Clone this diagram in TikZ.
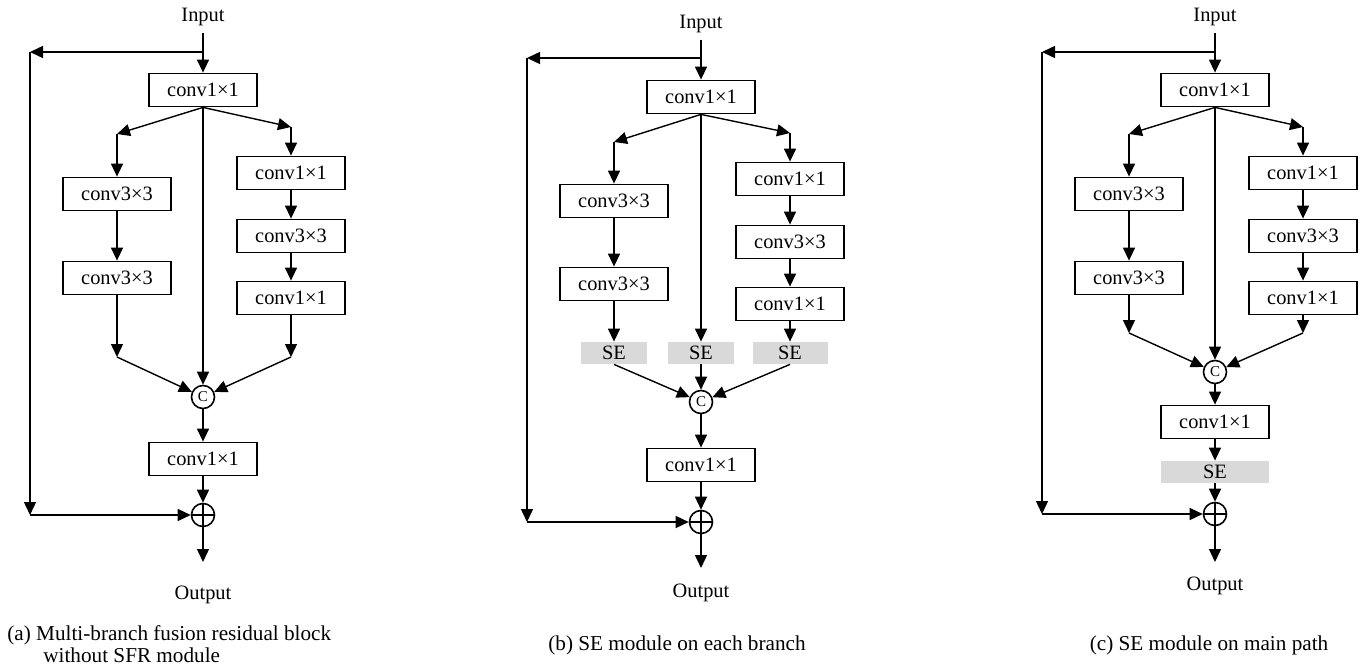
\documentclass[tikz,border=0pt]{standalone}
\usepackage{fontspec}
\setmainfont{Liberation Serif}
\usetikzlibrary{arrows.meta,positioning,calc}

\tikzset{
  convbox/.style={draw, line width=0.9pt, minimum width=54pt, minimum height=16.5pt,
    inner sep=0pt, font=\fontsize{10.2}{12}\selectfont},
  sebox/.style={fill=gray!30, minimum width=33pt, minimum height=11pt,
    inner sep=0pt, font=\fontsize{10.2}{12}\selectfont},
  catnode/.style={draw, circle, line width=0.8pt, minimum size=11.5pt, inner sep=0pt,
    font=\fontsize{7.5}{8}\selectfont},
  addnode/.style={draw, circle, line width=0.8pt, minimum size=11.5pt, inner sep=0pt,
    path picture={\draw[line width=0.8pt]
      (path picture bounding box.north) -- (path picture bounding box.south)
      (path picture bounding box.west) -- (path picture bounding box.east);}},
  lbl/.style={inner sep=0pt, font=\fontsize{10.2}{12}\selectfont},
  caption/.style={inner sep=0pt, font=\fontsize{10.6}{11}\selectfont},
  arr/.style={line width=0.7pt, -{Triangle[length=6.5pt,width=6pt]}}
}

\begin{document}
\begin{tikzpicture}[x=0.5pt,y=-0.5pt]
  \useasboundingbox (0,0) rectangle (1372,669);

  % ---- (a) fusion block ----
  \node[lbl] (ina) at (203,17) {Input};
  \node[convbox] (c1a) at (203,90) {conv1×1};
  \coordinate (ta) at (203,52);
  \coordinate (sa1) at (30,52);
  \coordinate (sa2) at (30,515);
  \coordinate (lca) at (117,134);
  \coordinate (rca) at (291,127);
  \node[convbox] (l1a) at (117,194) {conv3×3};
  \node[convbox] (l2a) at (117,278) {conv3×3};
  \node[convbox] (r1a) at (291,173) {conv1×1};
  \node[convbox] (r2a) at (291,236) {conv3×3};
  \node[convbox] (r3a) at (291,298) {conv1×1};
  \coordinate (lea) at (117,357);
  \coordinate (rea) at (291,357);
  \node[catnode] (cata) at (203,397) {C};
  \node[convbox] (c2a) at (203,459) {conv1×1};
  \node[addnode] (adda) at (203,515) {};
  \coordinate (oa) at (203,562);
  \node[lbl, below=12pt of oa] (outa) {Output};
  \node[caption, align=left, anchor=north west] (capa) at (7,625)
    {(a) Multi-branch fusion residual block\\\hspace*{18pt}without SFR module};

  % skip path
  \draw[arr, shorten <=3.5pt] (ina) -- (c1a);
  \draw[arr] (ta) -- (sa1);
  \draw[arr] (sa1) -- (sa2);
  \draw[arr] (sa2) -- (adda);
  % branches
  \draw[arr] (c1a.south) -- (lca);
  \draw[arr] (c1a.south) -- (rca);
  \draw[arr] (lca) -- (l1a);
  \draw[arr] (l1a) -- (l2a);
  \draw[arr] (l2a) -- (lea);
  \draw[arr] (rca) -- (r1a);
  \draw[arr] (r1a) -- (r2a);
  \draw[arr] (r2a) -- (r3a);
  \draw[arr] (r3a) -- (rea);
  \draw[arr] (c1a) -- (cata);
  \draw[arr] (lea) -- (cata);
  \draw[arr] (rea) -- (cata);
  % fused path
  \draw[arr] (cata) -- (c2a);
  \draw[arr] (c2a) -- (adda);
  \draw[arr] (adda) -- (oa);

  % ---- (b) SE on every branch ----
  \node[lbl] (inb) at (701,24) {Input};
  \node[convbox] (c1b) at (701,97) {conv1×1};
  \coordinate (tb) at (701,58);
  \coordinate (sb1) at (527,58);
  \coordinate (sb2) at (527,522);
  \coordinate (lcb) at (614,142);
  \coordinate (rcb) at (790,133);
  \node[convbox] (l1b) at (614,201) {conv3×3};
  \node[convbox] (l2b) at (614,284) {conv3×3};
  \node[convbox] (r1b) at (790,179) {conv1×1};
  \node[convbox] (r2b) at (790,242) {conv3×3};
  \node[convbox] (r3b) at (790,304) {conv1×1};
  \node[sebox] (seLb) at (614,353) {SE};
  \node[sebox] (seMb) at (701,353) {SE};
  \node[sebox, minimum width=37.5pt] (seRb) at (790,353) {SE};
  \node[catnode] (catb) at (701,402) {C};
  \node[convbox] (c2b) at (701,465) {conv1×1};
  \node[addnode] (addb) at (701,522) {};
  \coordinate (ob) at (701,568);
  \node[lbl, below=8pt of ob] (outb) {Output};
  \node[caption] (capb) at (677,645) {(b) SE module on each branch};

  % skip path
  \draw[arr, shorten <=3.5pt] (inb) -- (c1b);
  \draw[arr] (tb) -- (sb1);
  \draw[arr] (sb1) -- (sb2);
  \draw[arr] (sb2) -- (addb);
  % branches
  \draw[arr] (c1b.south) -- (lcb);
  \draw[arr] (c1b.south) -- (rcb);
  \draw[arr] (lcb) -- (l1b);
  \draw[arr] (l1b) -- (l2b);
  \draw[arr] (l2b) -- (seLb);
  \draw[arr] (rcb) -- (r1b);
  \draw[arr] (r1b) -- (r2b);
  \draw[arr] (r2b) -- (r3b);
  \draw[arr] (r3b) -- (seRb);
  \draw[arr] (c1b) -- (seMb);
  \draw[arr] (seLb.south) -- (catb);
  \draw[arr] (seMb) -- (catb);
  \draw[arr] (seRb.south) -- (catb);
  % fused path
  \draw[arr] (catb) -- (c2b);
  \draw[arr] (c2b) -- (addb);
  \draw[arr] (addb) -- (ob);

  % ---- (c) SE on the main path ----
  \node[lbl] (inc) at (1215,17) {Input};
  \node[convbox] (c1c) at (1215,90) {conv1×1};
  \coordinate (tc) at (1215,52);
  \coordinate (sc1) at (1042,52);
  \coordinate (sc2) at (1042,514);
  \coordinate (lcc) at (1129,134);
  \coordinate (rcc) at (1303,127);
  \node[convbox] (l1c) at (1129,194) {conv3×3};
  \node[convbox] (l2c) at (1129,278) {conv3×3};
  \node[convbox] (r1c) at (1303,173) {conv1×1};
  \node[convbox] (r2c) at (1303,236) {conv3×3};
  \node[convbox] (r3c) at (1303,298) {conv1×1};
  \coordinate (lec) at (1129,333);
  \coordinate (rec) at (1303,333);
  \node[catnode] (catc) at (1215,372) {C};
  \node[convbox] (c2c) at (1215,422) {conv1×1};
  \node[sebox, minimum width=54pt] (sec) at (1215,472) {SE};
  \node[addnode] (addc) at (1215,514) {};
  \coordinate (oc) at (1215,562);
  \node[lbl, below=7.5pt of oc] (outc) {Output};
  \node[caption] (capc) at (1209,645) {(c) SE module on main path};

  % skip path
  \draw[arr, shorten <=3.5pt] (inc) -- (c1c);
  \draw[arr] (tc) -- (sc1);
  \draw[arr] (sc1) -- (sc2);
  \draw[arr] (sc2) -- (addc);
  % branches
  \draw[arr] (c1c.south) -- (lcc);
  \draw[arr] (c1c.south) -- (rcc);
  \draw[arr] (lcc) -- (l1c);
  \draw[arr] (l1c) -- (l2c);
  \draw[arr] (l2c) -- (lec);
  \draw[arr] (rcc) -- (r1c);
  \draw[arr] (r1c) -- (r2c);
  \draw[arr] (r2c) -- (r3c);
  \draw[arr] (r3c) -- (rec);
  \draw[arr] (c1c) -- (catc);
  \draw[arr] (lec) -- (catc);
  \draw[arr] (rec) -- (catc);
  % fused path
  \draw[arr] (catc) -- (c2c);
  \draw[arr] (c2c) -- (sec);
  \draw[arr] (sec) -- (addc);
  \draw[arr] (addc) -- (oc);
\end{tikzpicture}
\end{document}
